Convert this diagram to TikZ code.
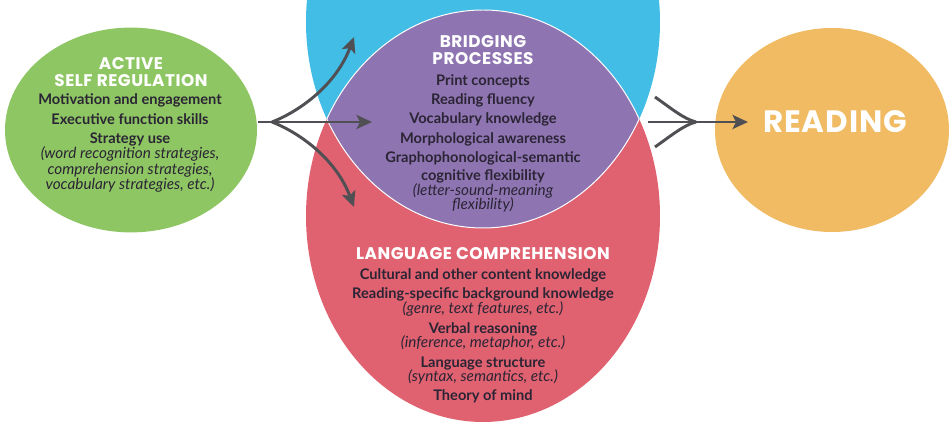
\documentclass[tikz,border=0pt]{standalone}
\usepackage{fontspec}
\setmainfont{Lato}
\newfontfamily\headfont{Poppins}[LetterSpace=3]
\usetikzlibrary{arrows.meta}
\tikzset{>={Stealth[length=11pt,width=10pt,inset=2.5pt]}}

\definecolor{asrgreen}{RGB}{141,198,99}
\definecolor{wrblue}{RGB}{66,189,230}
\definecolor{lcred}{RGB}{224,98,113}
\definecolor{bppurple}{RGB}{142,117,178}
\definecolor{rdorange}{RGB}{240,187,98}
\definecolor{inkdark}{RGB}{43,36,52}
\definecolor{arrowgray}{RGB}{80,80,84}

\tikzset{
  heading/.style={inner sep=0pt,align=center,text=white,
    font=\headfont\bfseries\fontsize{12}{12.5}\selectfont},
  bodytext/.style={inner sep=0pt,align=center,text=inkdark,
    font=\bfseries\fontsize{10.4}{13.8}\selectfont},
  flow/.style={draw=arrowgray,line width=2.1pt}
}
\newcommand{\itnote}[1]{{\mdseries\itshape\fontsize{10.9}{13.8}\selectfont #1}}

\begin{document}
\begin{tikzpicture}
      \useasboundingbox (0,0) rectangle (23.8,10.625);
      \clip (0,0) rectangle (23.8,10.625);

      % circles
      \fill [asrgreen] (3.275,7.375) ellipse [x radius=3.15, y radius=2.56];
      \fill [wrblue] (12.075,10.075) ellipse [x radius=4.425, y radius=5.15];
      \fill [lcred] (12.075,5.225) ellipse [x radius=4.425, y radius=5.15];
      \begin{scope}
        \clip (12.075,10.075) ellipse [x radius=4.425, y radius=5.15];
        \fill [bppurple] (12.075,5.225) ellipse [x radius=4.425, y radius=5.15];
        \draw [white,line width=0.7pt] (12.075,5.225) ellipse [x radius=4.425, y radius=5.15];
      \end{scope}
      \begin{scope}
        \clip (12.075,5.225) ellipse [x radius=4.425, y radius=5.15];
        \draw [white,line width=0.7pt] (12.075,10.075) ellipse [x radius=4.425, y radius=5.15];
      \end{scope}
      \fill [rdorange] (20.8,7.375) ellipse [x radius=2.925, y radius=2.55];

      % texts
      \node [heading,anchor=north] (asrhead) at (3.275,9.2)
        {ACTIVE\\SELF REGULATION};
      \node [bodytext,anchor=north] (asrbody) at (3.25,8.28)
        {Motivation and engagement\\
         Executive function skills\\
         Strategy use\\[-3pt]
         \itnote{(word recognition strategies,}\\[-3pt]
         \itnote{comprehension strategies,}\\[-3pt]
         \itnote{vocabulary strategies, etc.)}};

      \node [heading,anchor=north] (bphead) at (12.075,9.75)
        {BRIDGING\\PROCESSES};
      \node [bodytext,anchor=north] (bpbody) at (12.075,8.775)
        {Print concepts\\
         Reading fluency\\
         Vocabulary knowledge\\
         Morphological awareness\\
         Graphophonological-semantic\\[-1.5pt]
         cognitive flexibility\\[-3pt]
         \itnote{(letter-sound-meaning}\\[-3.5pt]
         \itnote{flexibility)}};

      \node [heading,anchor=north] (lchead) at (12.075,4.45)
        {LANGUAGE COMPREHENSION};
      \node [bodytext,anchor=north] (lcbody) at (12.075,3.925)
        {Cultural and other content knowledge\\
         Reading-specific background knowledge\\[-3pt]
         \itnote{(genre, text features, etc.)}\\
         Verbal reasoning\\[-3.5pt]
         \itnote{(inference, metaphor, etc.)}\\
         Language structure\\[-3.5pt]
         \itnote{(syntax, semantics, etc.)}\\
         Theory of mind};

      \node [heading,font=\headfont\bfseries\fontsize{22}{24}\selectfont]
        (rdhead) at (20.875,7.575) {READING};

      % arrows
      \coordinate (asrout) at (6.45,7.575);
      \coordinate (fork) at (6.8,7.575);
      \coordinate (upTip) at (8.85,9.7);
      \coordinate (midTip) at (9.3,7.575);
      \coordinate (lowTip) at (8.85,5.45);

      \draw [flow,->] (asrout) -- (midTip);
      \draw [flow,->] (fork) .. controls (7.5,7.85) and (8.4,8.5) .. (upTip);
      \draw [flow,->] (fork) .. controls (7.5,7.3) and (8.4,6.65) .. (lowTip);

      \coordinate (lensout) at (16.2,7.575);
      \coordinate (cvUp) at (16.375,8.2);
      \coordinate (cvLow) at (16.375,6.95);
      \coordinate (join) at (17.4,7.575);
      \coordinate (rdTip) at (18.7,7.575);

      \draw [flow,->] (lensout) -- (rdTip);
      \draw [flow] (cvUp) .. controls (16.8,7.9) and (17.1,7.65) .. (join);
      \draw [flow] (cvLow) .. controls (16.8,7.25) and (17.1,7.5) .. (join);
\end{tikzpicture}
\end{document}
